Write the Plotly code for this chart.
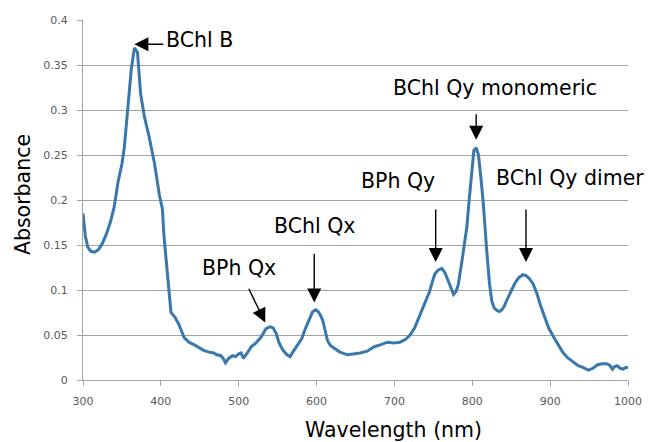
import plotly.graph_objects as go

wavelength = [300, 303, 306, 310, 315, 320, 325, 330, 335, 340, 345, 350, 353, 357, 362, 366, 370, 374, 379, 385,
              392, 398, 402, 404, 408, 411, 413, 418, 423, 430, 436, 443, 449, 455, 462, 468, 472, 477, 480, 483,
              487, 492, 496, 500, 503, 506, 511, 516, 522, 529, 535, 540, 544, 548, 552, 557, 562, 566, 571, 576,
              581, 586, 591, 595, 599, 602, 605, 608, 611, 614, 618, 623, 630, 640, 648, 656, 665, 674, 682, 691,
              699, 707, 714, 720, 726, 730, 734, 738, 742, 745, 749, 752, 756, 761, 765, 770, 773, 776, 779, 782,
              786, 790, 793, 796, 799, 802, 805, 808, 811, 814, 818, 822, 825, 828, 832, 835, 838, 841, 845, 850,
              855, 860, 865, 869, 873, 878, 883, 888, 893, 898, 903, 907, 912, 916, 922, 929, 936, 942, 949, 955,
              961, 967, 973, 977, 980, 983, 986, 990, 994, 997, 1000]
absorbance = [0.185, 0.160, 0.148, 0.143, 0.142, 0.145, 0.152, 0.162, 0.175, 0.192, 0.220, 0.240, 0.258, 0.300, 0.345,
              0.369, 0.364, 0.318, 0.292, 0.270, 0.240, 0.206, 0.190, 0.160, 0.120, 0.090, 0.075, 0.070, 0.062, 0.047,
              0.042, 0.039, 0.036, 0.033, 0.031, 0.030, 0.028, 0.027, 0.024, 0.019, 0.024, 0.027, 0.026, 0.029, 0.030,
              0.024, 0.030, 0.037, 0.041, 0.048, 0.057, 0.059, 0.058, 0.052, 0.041, 0.033, 0.028, 0.026, 0.033, 0.039,
              0.046, 0.058, 0.068, 0.076, 0.078, 0.076, 0.072, 0.066, 0.055, 0.044, 0.038, 0.035, 0.031, 0.028, 0.029,
              0.030, 0.032, 0.037, 0.039, 0.042, 0.041, 0.042, 0.045, 0.050, 0.058, 0.066, 0.075, 0.082, 0.090, 0.098,
              0.110, 0.118, 0.122, 0.124, 0.119, 0.108, 0.100, 0.095, 0.098, 0.106, 0.128, 0.150, 0.170, 0.200, 0.232,
              0.255, 0.258, 0.250, 0.225, 0.198, 0.150, 0.108, 0.088, 0.080, 0.077, 0.076, 0.078, 0.082, 0.090, 0.100,
              0.108, 0.114, 0.117, 0.116, 0.113, 0.107, 0.096, 0.082, 0.070, 0.058, 0.050, 0.044, 0.037, 0.031, 0.025,
              0.020, 0.016, 0.014, 0.011, 0.013, 0.017, 0.018, 0.018, 0.016, 0.012, 0.015, 0.016, 0.013, 0.012, 0.014,
              0.014]

# annotation labels
label_text = ["BChl B", "BPh Qx", "BChl Qx", "BPh Qy", "BChl Qy monomeric", "BChl Qy dimer"]
label_x = [450, 501, 598, 704, 829, 926]
label_y = [0.378, 0.124, 0.171, 0.221, 0.324, 0.224]
# arrows: tail (x0,y0) -> tip (x1,y1)
arrow_x0 = [405, 512, 597, 753, 805, 869]
arrow_y0 = [0.373, 0.103, 0.142, 0.191, 0.297, 0.191]
arrow_x1 = [366, 534, 597, 753, 805, 869]
arrow_y1 = [0.373, 0.064, 0.086, 0.131, 0.267, 0.131]

FONT = "DejaVu Sans"
GRID = "#a3a3a3"
TICKC = "#595959"

fig = go.Figure()
fig.add_trace(go.Scatter(x=wavelength, y=absorbance, mode="lines",
                         line=dict(color="#3A78AC", width=3), showlegend=False))

for t, x, y in zip(label_text, label_x, label_y):
    fig.add_annotation(x=x, y=y, text=t, showarrow=False, xref="x", yref="y",
                       font=dict(family=FONT, size=20.5, color="black"))

for x0, y0, x1, y1 in zip(arrow_x0, arrow_y0, arrow_x1, arrow_y1):
    fig.add_annotation(x=x1, y=y1, ax=x0, ay=y0, xref="x", yref="y", axref="x", ayref="y",
                       text="", showarrow=True, arrowhead=2, arrowsize=2.0, arrowwidth=1.4,
                       arrowcolor="black")

# axis titles
fig.add_annotation(text="Wavelength (nm)", xref="paper", yref="paper", x=0.569, y=-0.139,
                   showarrow=False, xanchor="center", yanchor="middle",
                   font=dict(family=FONT, size=20.5, color="black"))
fig.add_annotation(text="Absorbance", xref="paper", yref="paper", x=-0.111, y=0.515, textangle=-90,
                   showarrow=False, xanchor="center", yanchor="middle",
                   font=dict(family=FONT, size=20.5, color="black"))

fig.update_layout(
    width=654, height=442,
    margin=dict(l=83, r=21, t=20, b=62),
    paper_bgcolor="white", plot_bgcolor="white",
    font=dict(family=FONT),
    xaxis=dict(range=[300, 1000], dtick=100, showgrid=False, zeroline=False,
               showline=True, linecolor=GRID, linewidth=1, ticks="outside", ticklen=5, tickcolor=GRID,
               ticklabelstandoff=6,
               tickfont=dict(family=FONT, size=11, color=TICKC)),
    yaxis=dict(range=[0, 0.4], dtick=0.05, showgrid=True, gridcolor=GRID, gridwidth=1, zeroline=False,
               showline=True, linecolor=GRID, linewidth=1, ticks="outside", ticklen=5, tickcolor=GRID,
               ticklabelstandoff=7,
               tickfont=dict(family=FONT, size=11, color=TICKC)),
)

fig.write_html("out.html")
